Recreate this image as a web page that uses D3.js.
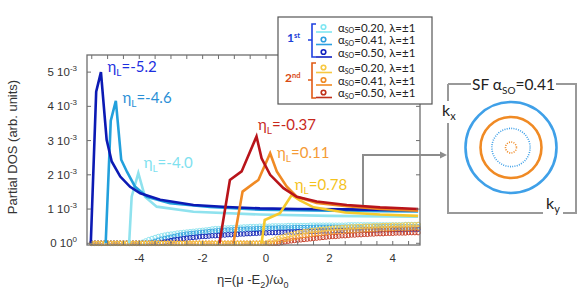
<!DOCTYPE html>
<html><head><meta charset="utf-8">
<script src="https://cdn.jsdelivr.net/npm/d3@7"></script>
<style>body{margin:0;background:#fff}svg{display:block}</style>
</head><body>
<svg id="c" width="579" height="307"></svg>
<script>
// ---------- DATA ----------
// solid lines (eta, DOS in units of 1e-3)
const lineDark   = [[-5.53,0],[-5.36,4.43],[-5.21,5.0],[-5.03,3.02],[-4.87,2.39],[-4.6,1.95],[-4.29,1.65],[-3.97,1.46],[-3.34,1.27],[-2.29,1.12],[-1.24,1.06],[-0.19,1.02],[1.0,1.0],[2.5,0.99],[4.8,0.97]];
const lineMed    = [[-5.06,0],[-4.9,3.58],[-4.74,4.16],[-4.57,2.44],[-4.39,2.09],[-4.13,1.65],[-3.76,1.36],[-3.03,1.17],[-1.77,1.06],[-0.19,0.98],[2.0,0.95],[4.8,0.93]];
const lineLight  = [[-4.32,0],[-4.24,1.36],[-4.03,2.05],[-3.82,1.36],[-3.45,1.07],[-2.29,0.92],[-0.19,0.84],[2.0,0.8],[4.8,0.78]];
const lineRed    = [[-1.47,0],[-1.14,1.85],[-0.77,2.1],[-0.3,3.12],[-0.14,2.48],[0.13,2.0],[0.55,1.61],[0.97,1.36],[1.6,1.22],[2.55,1.12],[3.6,1.05],[4.8,1.0]];
const lineOrange = [[-1.03,0],[-0.74,1.51],[-0.24,1.85],[0.13,2.63],[0.34,2.1],[0.65,1.66],[0.97,1.36],[1.6,1.18],[2.55,1.08],[3.6,1.0],[4.8,0.95]];
const lineYellow = [[-0.14,0],[-0.04,0.68],[0.44,0.88],[0.81,1.41],[1.07,1.25],[1.5,1.05],[2.5,0.9],[3.6,0.84],[4.8,0.8]];

// circle-marker series: eta grid and DOS in units of 1e-5
const circX0 = -5.5, circStep = 0.1; // 104 samples
const circCyan = [0,0,0,0,0,0,0,0,0,0,0,0,0,0,0,0,
 3,7,11,14,17,20,22,24,26,27,28,30,31,32,33,34,35,36,37,38,39,40,42,43,43,44,45,45,46,46,47,47,48,48,49,49,49,50,50,50,
 50,51,51,51,51,51,52,52,52,52,52,52,52,53,53,53,53,53,53,53,53,53,53,53,53,54,54,54,54,54,54,54,54,54,54,54,54,54,54,54,54,54,54,55,55,55,55,55];
const circMed = [0,0,0,0,0,0,0,0,0,0,0,0,0,0,0,0,0,0,0,
 3,6,9,12,14,16,18,20,22,24,25,27,28,29,30,31,32,33,34,35,36,37,37,38,39,39,40,40,41,41,42,42,42,43,43,43,44,
 44,44,44,45,45,45,45,45,46,46,46,46,46,46,46,47,47,47,47,47,47,47,47,47,47,47,47,47,47,47,48,48,48,48,48,48,48,48,48,48,48,48,48,48,48,48,48,48];
const circDark = [0,0,0,0,0,0,0,0,0,0,0,0,0,0,0,0,0,0,0,0,0,0,
 2,4,6,8,10,11,12,14,15,16,17,18,19,20,20,21,22,22,23,24,24,25,25,26,26,27,27,28,28,29,29,30,30,30,
 31,31,31,32,32,32,33,33,33,34,34,34,35,35,35,35,36,36,36,36,37,37,37,37,37,38,38,38,38,38,39,39,39,39,39,39,40,40,40,40,40,40,40,41,41,41,41,41];
const circYellow = [0,0,0,0,0,0,0,0,0,0,0,0,0,0,0,0,0,0,0,0,0,0,0,0,0,0,0,0,0,0,0,0,0,0,0,0,0,0,0,0,0,0,0,0,0,0,0,0,0,0,0,0,0,0,0,0,
 4,8,12,15,18,21,24,26,28,30,32,34,35,37,38,39,40,41,42,43,44,45,45,46,47,47,48,48,49,49,50,50,50,51,51,51,52,52,52,53,53,53,53,54,54,54,54,55];
const circOrange = [0,0,0,0,0,0,0,0,0,0,0,0,0,0,0,0,0,0,0,0,0,0,0,0,0,0,0,0,0,0,0,0,0,0,0,0,0,0,0,0,0,0,0,0,0,0,0,0,0,0,0,0,0,0,0,0,0,0,
 3,6,9,11,13,15,17,19,21,23,24,26,27,28,29,30,31,32,33,34,35,35,36,37,37,38,38,39,39,40,40,41,41,42,42,42,43,43,43,44,44,44,44,45,45,45];
const circRed = [0,0,0,0,0,0,0,0,0,0,0,0,0,0,0,0,0,0,0,0,0,0,0,0,0,0,0,0,0,0,0,0,0,0,0,0,0,0,0,0,0,0,0,0,0,0,0,0,0,0,0,0,0,0,0,0,0,0,0,0,
 2,4,6,7,8,9,10,11,12,13,14,15,16,17,18,19,20,20,21,22,22,23,24,24,25,25,26,26,27,27,28,28,28,29,29,29,30,30,30,30,31,31,31,31];

const xTicks = [-4,-2,0,2,4];
const yTicks = [0,1,2,3,4,5];
const yTickExp = ["0","-3","-3","-3","-3","-3"];
const annotations = [
  {t:"-5.2", x:-5.0, y:5.0, c:"#1d2fe0"},
  {t:"-4.6", x:-4.53, y:4.1, c:"#2a8fd6"},
  {t:"-4.0", x:-3.86, y:2.2, c:"#7fe1ef"},
  {t:"-0.37", x:-0.25, y:3.3, c:"#c8281c"},
  {t:"0.11", x:0.35, y:2.5, c:"#f59b36"},
  {t:"0.78", x:0.91, y:1.55, c:"#f4c21c"}
];
const legendAlpha = ["0.20","0.41","0.50","0.20","0.41","0.50"];
const legendColors = ["#7fe6f2","#2c9fe0","#1020c0","#f7c842","#f08a24","#c0301a"];
const sfRadii = [1.0, 0.67, 0.42, 0.12]; // relative k radii
const sfColors = ["#3fa0e8","#f08a24","#3fa0e8","#f08a24"];
const sfDotted = [false,false,true,true];

// ---------- DRAW ----------
const svg = d3.select("#c");
const x = d3.scaleLinear().domain([-5.65,4.86]).range([87,420]);
const y = d3.scaleLinear().domain([-0.05,5.5]).range([245,55]);
const axisCol = "#6e6e6e";
const txtCol = "#333";

// circle series
const circSeries = [
  {v:circCyan, c:"#8fe4f0"},{v:circMed, c:"#3aa6e0"},{v:circDark, c:"#1a2ab8"},
  {v:circRed, c:"#c8402a"},{v:circOrange, c:"#f3962e"},{v:circYellow, c:"#f6cc52"}
];
circSeries.forEach(s=>{
  svg.append("g").selectAll("circle").data(s.v).join("circle")
    .attr("cx",(d,i)=>x(circX0+circStep*i)).attr("cy",d=>y(d/100))
    .attr("r",2.2).attr("fill","none").attr("stroke",s.c).attr("stroke-width",1);
});

const line = d3.line().x(d=>x(d[0])).y(d=>y(d[1]));
[[lineLight,"#8fe2ee"],[lineMed,"#22a0dc"],[lineDark,"#0c1ab4"],[lineYellow,"#f6c92c"],[lineOrange,"#f08a24"],[lineRed,"#b8141a"]]
.forEach(([d,c])=>{
  svg.append("path").datum(d).attr("d",line).attr("fill","none").attr("stroke",c)
    .attr("stroke-width",2.6).attr("stroke-linejoin","miter");
});

// frame
svg.append("rect").attr("x",87).attr("y",55).attr("width",333).attr("height",190)
  .attr("fill","none").attr("stroke",axisCol).attr("stroke-width",1.3);
// ticks
const g = svg.append("g").attr("stroke",axisCol).attr("stroke-width",1);
d3.range(-5.5,4.9,0.5).forEach(t=>{
  g.append("line").attr("x1",x(t)).attr("x2",x(t)).attr("y1",245).attr("y2",241);
  g.append("line").attr("x1",x(t)).attr("x2",x(t)).attr("y1",55).attr("y2",59);
});
yTicks.forEach(t=>{
  g.append("line").attr("x1",87).attr("x2",91).attr("y1",y(t)).attr("y2",y(t));
  g.append("line").attr("x1",420).attr("x2",416).attr("y1",y(t)).attr("y2",y(t));
});
// tick labels
const font = "'Liberation Sans', Arial, sans-serif";
xTicks.forEach(t=>{
  svg.append("text").attr("x",x(t)).attr("y",262).attr("text-anchor","middle")
    .attr("font-family",font).attr("font-size",11.5).attr("fill",txtCol).text(t);
});
yTicks.forEach((t,i)=>{
  const tx = svg.append("text").attr("x",77).attr("y",y(t)+4).attr("text-anchor","end")
    .attr("font-family",font).attr("font-size",11.5).attr("fill",txtCol);
  tx.append("tspan").text(t+" 10");
  tx.append("tspan").attr("dy",-5).attr("font-size",8).text(yTickExp[i]);
});
// axis titles
svg.append("text").attr("transform","translate(17,147) rotate(-90)").attr("text-anchor","middle")
  .attr("font-family",font).attr("font-size",13).attr("fill",txtCol).text("Partial DOS (arb. units)");
const xt = svg.append("text").attr("x",217).attr("y",284).attr("font-family",font).attr("font-size",13).attr("fill",txtCol);
xt.append("tspan").text("η=(μ -E");
xt.append("tspan").attr("dy",4).attr("font-size",9).text("2");
xt.append("tspan").attr("dy",-4).text(")/ω");
xt.append("tspan").attr("dy",4).attr("font-size",9).text("0");

// annotations
const cal = "Lato, 'Open Sans', sans-serif";
annotations.forEach(a=>{
  const t = svg.append("text").attr("x",x(a.x)).attr("y",y(a.y)).attr("font-family",cal)
    .attr("font-size",15).attr("fill",a.c);
  t.append("tspan").text("η");
  t.append("tspan").attr("dy",4).attr("font-size",10).text("L");
  t.append("tspan").attr("dy",-4).text("="+a.t);
});

// legend box
svg.append("rect").attr("x",278).attr("y",17).attr("width",154).attr("height",87)
  .attr("fill","#fff").attr("stroke","#555").attr("stroke-width",1.2);
const rowY = [28,40.5,53,68.5,81,93.5];
rowY.forEach((ry,i)=>{
  svg.append("circle").attr("cx",323.5).attr("cy",ry-1).attr("r",2.3).attr("fill","none")
    .attr("stroke",legendColors[i]).attr("stroke-width",1.6);
  svg.append("line").attr("x1",316).attr("x2",332).attr("y1",ry+4).attr("y2",ry+4)
    .attr("stroke",legendColors[i]).attr("stroke-width",1.6);
  const t = svg.append("text").attr("x",338).attr("y",ry+3.5).attr("font-family",cal)
    .attr("font-size",11.5).attr("fill","#222");
  t.append("tspan").text("α");
  t.append("tspan").attr("dy",1.5).attr("font-size",7).text("SO");
  t.append("tspan").attr("dy",-1.5).text("="+legendAlpha[i]+", λ=±1");
});
// brackets
[[24,57,"#1f40e0",40],[63,98,"#e05a14",80]].forEach(([a,b,c,m])=>{
  svg.append("path").attr("d",`M316,${a} H312 V${b} H316 M312,${m} H308`)
    .attr("fill","none").attr("stroke",c).attr("stroke-width",1.6);
});
const s1 = svg.append("text").attr("x",287).attr("y",42).attr("font-family",cal).attr("font-size",12)
  .attr("font-weight","bold").attr("fill","#2040d8");
s1.append("tspan").text("1"); s1.append("tspan").attr("dy",-4).attr("font-size",7.5).text("st");
const s2 = svg.append("text").attr("x",285).attr("y",82).attr("font-family",cal).attr("font-size",12)
  .attr("font-weight","bold").attr("fill","#d84a14");
s2.append("tspan").text("2"); s2.append("tspan").attr("dy",-4).attr("font-size",7.5).text("nd");

// connector arrow
const gray = "#8c8c8c";
svg.append("path").attr("d","M363,205 V155 H441").attr("fill","none").attr("stroke",gray).attr("stroke-width",2);
svg.append("path").attr("d","M440,151.5 L447,155 L440,158.5 Z").attr("fill",gray);

// SF panel
const sfL=448, sfR=576, sfT=84, sfB=213;
svg.append("path").attr("d",`M${sfL},${sfT} H471 M556,${sfT} H${sfR} V${sfB} H563 M543,${sfB} H${sfL} V123 M${sfL},101 V${sfT}`)
  .attr("fill","none").attr("stroke","#999").attr("stroke-width",2);
const sft = svg.append("text").attr("x",513.5).attr("y",90).attr("text-anchor","middle").attr("font-family",cal)
  .attr("font-size",15.5).attr("fill","#222");
sft.append("tspan").text("SF α");
sft.append("tspan").attr("dy",4).attr("font-size",10).text("SO");
sft.append("tspan").attr("dy",-4).text("=0.41");
const kx = svg.append("text").attr("x",442).attr("y",116).attr("font-family",cal).attr("font-size",16).attr("fill","#222");
kx.append("tspan").text("k"); kx.append("tspan").attr("dy",4).attr("font-size",11).text("x");
const ky = svg.append("text").attr("x",546).attr("y",209).attr("font-family",cal).attr("font-size",16).attr("fill","#222");
ky.append("tspan").text("k"); ky.append("tspan").attr("dy",4).attr("font-size",11).text("y");
const kr = d3.scaleLinear().domain([0,1]).range([0,45.5]);
sfRadii.forEach((r,i)=>{
  svg.append("circle").attr("cx",511).attr("cy",147.5).attr("r",kr(r)).attr("fill","none")
    .attr("stroke",sfColors[i]).attr("stroke-width",sfDotted[i]?1.6:2.6)
    .attr("stroke-dasharray",sfDotted[i]?"1,1.3":null);
});
</script>
</body></html>
